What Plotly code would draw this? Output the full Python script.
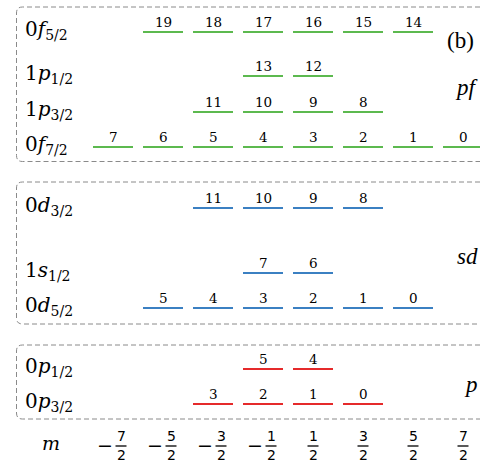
import plotly.graph_objects as go

# ---------------- data ----------------
orb_n = [0, 1, 1, 0, 0, 1, 0, 0, 0]
orb_l = ["f", "p", "p", "f", "d", "s", "d", "p", "p"]
orb_j2 = [5, 1, 3, 7, 3, 1, 5, 1, 3]            # 2j
orb_shell = ["pf", "pf", "pf", "pf", "sd", "sd", "sd", "p", "p"]
orb_level = [43.0, 38.6, 35.0, 31.5, 25.4, 18.9, 15.4, 9.3, 5.8]   # schematic level height
orb_m2 = [
    [-5, -3, -1, 1, 3, 5],
    [-1, 1],
    [-3, -1, 1, 3],
    [-7, -5, -3, -1, 1, 3, 5, 7],
    [-3, -1, 1, 3],
    [-1, 1],
    [-5, -3, -1, 1, 3, 5],
    [-1, 1],
    [-3, -1, 1, 3],
]
orb_states = [
    [19, 18, 17, 16, 15, 14],
    [13, 12],
    [11, 10, 9, 8],
    [7, 6, 5, 4, 3, 2, 1, 0],
    [11, 10, 9, 8],
    [7, 6],
    [5, 4, 3, 2, 1, 0],
    [5, 4],
    [3, 2, 1, 0],
]
shell_names = ["pf", "sd", "p"]
shell_colors = {"pf": "#5cb94f", "sd": "#3b80c2", "p": "#e52a2b"}
m_tick_num = [-7, -5, -3, -1, 1, 3, 5, 7]
m_tick_den = [2, 2, 2, 2, 2, 2, 2, 2]

# ---------------- layout helpers (pixel -> axis units) ----------------
W, H = 480, 462
X0, DX = 288.0, 50.0       # pixel of m=0 and pixels per unit m
def X(px):
    return (px - X0) / DX
def Y(py):
    return (H - py) / 10.0

SERIF = "Liberation Serif"
DSERIF = "DejaVu Serif"
SANS = "DejaVu Sans"
fig = go.Figure()

# level lines
for sh in shell_names:
    xs, ys = [], []
    for k in range(len(orb_l)):
        if orb_shell[k] != sh:
            continue
        for m2 in orb_m2[k]:
            m = m2 / 2
            xs += [m - 0.4, m + 0.4, None]
            ys += [orb_level[k], orb_level[k], None]
    fig.add_trace(go.Scatter(x=xs, y=ys, mode="lines",
                             line=dict(color=shell_colors[sh], width=2.2),
                             hoverinfo="skip", showlegend=False))

ann = []
# state indices above lines
for k in range(len(orb_l)):
    for m2, s in zip(orb_m2[k], orb_states[k]):
        ann.append(dict(x=m2 / 2, y=orb_level[k], xref="x", yref="y",
                        text=str(s), showarrow=False, yanchor="middle",
                        yshift=10, font=dict(family=DSERIF, size=13.5, color="black")))
    # orbital labels
    lab = f"{orb_n[k]}<i>{orb_l[k]}</i><sub>{orb_j2[k]}/2</sub>"
    ann.append(dict(x=X(23), y=orb_level[k], xref="x", yref="y", text=lab,
                    showarrow=False, xanchor="left", yanchor="middle", yshift=2,
                    font=dict(family=DSERIF, size=20, color="black")))

# shell names
ann.append(dict(x=X(467), y=Y(87), xref="x", yref="y", text="<i>pf</i>", showarrow=False,
                font=dict(family=SERIF, size=23, color="black")))
ann.append(dict(x=X(455), y=Y(256), xref="x", yref="y", text="<i>sd</i>", showarrow=False,
                xanchor="left", font=dict(family=SERIF, size=23, color="black")))
ann.append(dict(x=X(471), y=Y(384), xref="x", yref="y", text="<i>p</i>", showarrow=False,
                font=dict(family=SERIF, size=23, color="black")))
ann.append(dict(x=X(460), y=Y(40), xref="x", yref="y", text="(b)", showarrow=False,
                font=dict(family=SERIF, size=23, color="black")))

# m axis
ann.append(dict(x=X(51), y=Y(443), xref="x", yref="y", text="<i>m</i>", showarrow=False,
                font=dict(family=DSERIF, size=19, color="black")))
shapes = []
for num, den in zip(m_tick_num, m_tick_den):
    m = num / den
    fx = m + (8.0 / DX if num < 0 else 0)
    if num < 0:
        ann.append(dict(x=m - 8.0 / DX, y=Y(444.5), xref="x", yref="y", text="\u2212",
                        showarrow=False, font=dict(family=SANS, size=19, color="black")))
    ann.append(dict(x=fx, y=Y(436), xref="x", yref="y", text=str(abs(num)),
                    showarrow=False, font=dict(family=SANS, size=14, color="black")))
    ann.append(dict(x=fx, y=Y(455), xref="x", yref="y", text=str(den),
                    showarrow=False, font=dict(family=SANS, size=14, color="black")))
    shapes.append(dict(type="line", xref="x", yref="y", x0=fx - 5.5 / DX, x1=fx + 5.5 / DX,
                       y0=Y(446), y1=Y(446), line=dict(color="black", width=1.3)))

# dashed rounded boxes
boxes = [(7, 161.5), (182, 324), (345, 419)]
left, r, right = 16.5, 6, 520
for top, bot in boxes:
    path = (f"M {X(right)},{Y(top)} L {X(left + r)},{Y(top)} "
            f"Q {X(left)},{Y(top)} {X(left)},{Y(top + r)} "
            f"L {X(left)},{Y(bot - r)} Q {X(left)},{Y(bot)} {X(left + r)},{Y(bot)} "
            f"L {X(right)},{Y(bot)}")
    shapes.append(dict(type="path", xref="x", yref="y", path=path,
                       line=dict(color="#8a8a8a", width=1, dash="5px,3px")))

fig.update_layout(
    width=W, height=H, margin=dict(l=0, r=0, t=0, b=0),
    paper_bgcolor="white", plot_bgcolor="white",
    xaxis=dict(range=[X(0), X(W)], visible=False, fixedrange=True),
    yaxis=dict(range=[Y(H), Y(0)], visible=False, fixedrange=True),
    annotations=ann, shapes=shapes, showlegend=False,
)
fig.write_html("out.html", config={"displayModeBar": False},
               post_script="document.body.style.margin='0px';document.body.style.overflow='hidden';")
